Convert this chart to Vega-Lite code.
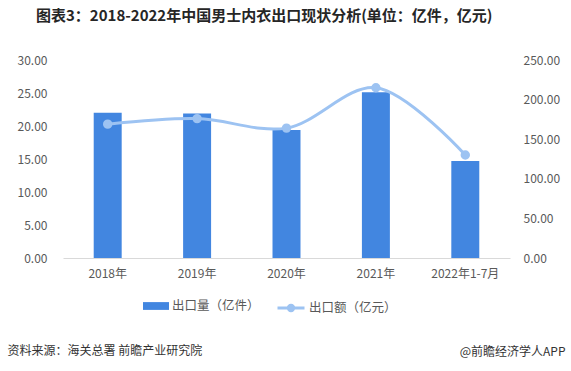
{
  "$schema": "https://vega.github.io/schema/vega-lite/v6.json",
  "width": 447,
  "height": 198,
  "autosize": {"type": "none"},
  "padding": {"left": 63, "top": 60, "right": 61, "bottom": 113},
  "background": "white",
  "config": {
    "view": {"stroke": null},
    "font": "Noto Sans CJK SC",
    "axis": {"labelFont": "Noto Sans CJK SC", "labelColor": "#595959", "labelFontSize": 12, "grid": false, "ticks": false}
  },
  "title": {
    "text": "图表3：2018-2022年中国男士内衣出口现状分析(单位：亿件，亿元)",
    "anchor": "start",
    "frame": "group",
    "dx": -27,
    "offset": 30,
    "fontSize": 15,
    "fontWeight": "bold",
    "color": "#262626",
    "font": "Noto Sans CJK SC"
  },
  "data": {
    "values": [
      {"year": "2018年", "qty": 22.0, "amt": 169},
      {"year": "2019年", "qty": 21.9, "amt": 176},
      {"year": "2020年", "qty": 19.4, "amt": 164},
      {"year": "2021年", "qty": 25.1, "amt": 215},
      {"year": "2022年1-7月", "qty": 14.7, "amt": 130}
    ]
  },
  "encoding": {
    "x": {
      "field": "year", "type": "nominal", "sort": null,
      "scale": {"paddingInner": 0.687, "paddingOuter": 0.3435},
      "axis": {
        "labelAngle": 0, "labelPadding": 10, "domainColor": "#D9D9D9", "domainWidth": 1,
        "title": "资料来源：海关总署 前瞻产业研究院",
        "titleFont": "Noto Sans CJK SC", "titleFontSize": 12, "titleFontWeight": "normal",
        "titleColor": "#333333", "titleAnchor": "start", "titleAlign": "left", "titleBaseline": "middle",
        "titleX": -56, "titleY": 92
      }
    }
  },
  "layer": [
    {
      "mark": {"type": "bar", "color": "#4286E0"},
      "encoding": {
        "y": {
          "field": "qty", "type": "quantitative",
          "scale": {"domain": [0, 30]},
          "axis": {"values": [0, 5, 10, 15, 20, 25, 30], "format": ".2f", "domain": false, "labelPadding": 16, "title": null}
        },
        "fill": {
          "datum": "出口量（亿件）",
          "scale": {"range": ["#4286E0"]},
          "legend": {
            "title": null, "orient": "none", "legendX": 80, "legendY": 233,
            "symbolType": "M-1,-0.3H1V0.3H-1Z", "symbolSize": 676, "symbolStrokeWidth": 0,
            "labelFontSize": 12.5, "labelColor": "#595959", "labelOffset": 3, "labelFont": "Noto Sans CJK SC"
          }
        }
      }
    },
    {
      "mark": {"type": "line", "interpolate": "catmull-rom", "strokeWidth": 3, "point": {"size": 55, "filled": true, "color": "#9DC3F2"}},
      "encoding": {
        "y": {
          "field": "amt", "type": "quantitative",
          "scale": {"domain": [0, 250]},
          "axis": {
            "orient": "right", "values": [0, 50, 100, 150, 200, 250], "format": ".2f", "domain": false, "labelPadding": 13,
            "title": "@前瞻经济学人APP", "titleAngle": 0, "titleFont": "Noto Sans CJK SC", "titleFontSize": 12,
            "titleFontWeight": "normal", "titleColor": "#333333", "titleAlign": "right", "titleBaseline": "middle",
            "titleX": 55, "titleY": 291
          }
        },
        "stroke": {
          "datum": "出口额（亿元）",
          "scale": {"range": ["#9DC3F2"]},
          "legend": {
            "title": null, "orient": "none", "legendX": 213, "legendY": 233,
            "symbolType": "M-1,0H1M-0.2,0A0.2,0.2 0 1,1 0.2,0A0.2,0.2 0 1,1 -0.2,0Z",
            "symbolSize": 729, "symbolStrokeWidth": 3, "symbolFillColor": "#9DC3F2",
            "labelFontSize": 12.5, "labelColor": "#595959", "labelOffset": 3, "labelFont": "Noto Sans CJK SC"
          }
        }
      }
    }
  ],
  "resolve": {"scale": {"y": "independent"}}
}
